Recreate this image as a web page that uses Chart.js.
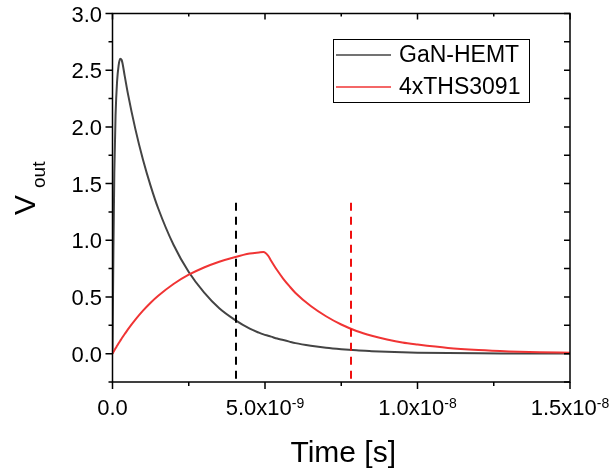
<!DOCTYPE html>
<html>
<head>
<meta charset="utf-8">
<script src="https://cdn.jsdelivr.net/npm/chart.js@4.4.1/dist/chart.umd.min.js"></script>
<style>
html,body{margin:0;padding:0;background:#fff;}
canvas{display:block;}
</style>
</head>
<body>
<canvas id="c" width="616" height="474"></canvas>
<script>
// ---- data (time in ns) ----
const timeNs = [0, 0.03, 0.06, 0.1, 0.15, 0.2, 0.25, 0.3, 0.4, 0.5, 0.75, 1, 1.25, 1.5, 2, 2.5, 3, 3.5, 4, 4.5, 4.8, 4.95, 5.1, 5.2, 5.4, 5.6, 5.8, 6, 6.5, 7, 7.5, 8, 8.5, 9, 9.5, 10, 11, 12, 13, 14, 15];
const ganHemt = [0, 0.9, 1.6, 2.1, 2.4, 2.54, 2.6, 2.59, 2.45, 2.30, 1.98, 1.71, 1.48, 1.28, 0.96, 0.72, 0.54, 0.40, 0.30, 0.22, 0.185, 0.17, 0.158, 0.15, 0.133, 0.12, 0.106, 0.093, 0.070, 0.052, 0.039, 0.029, 0.022, 0.016, 0.012, 0.009, 0.005, 0.003, 0.002, 0.001, 0.001];
const ths3091 = [0, 0.014, 0.028, 0.047, 0.069, 0.091, 0.112, 0.133, 0.173, 0.212, 0.300, 0.379, 0.449, 0.510, 0.614, 0.696, 0.760, 0.811, 0.851, 0.883, 0.893, 0.897, 0.865, 0.82, 0.735, 0.66, 0.595, 0.535, 0.42, 0.33, 0.257, 0.20, 0.158, 0.125, 0.098, 0.08, 0.05, 0.032, 0.02, 0.012, 0.008];
const markerTimes = [4.05, 7.82];
const markerTop = 1.33;
const seriesNames = ['GaN-HEMT', '4xTHS3091'];

// ---- axes ----
const xMin = 0, xMax = 15, yMin = -0.25, yMax = 3.0;
const xMajorTicks = [0, 5, 10, 15];
const xTickBase = ['0.0', '5.0x10', '1.0x10', '1.5x10'];
const xTickExp = ['', '-9', '-8', '-8'];
const xMinorTicks = [2.5, 7.5, 12.5];
const yMajorTicks = [0, 0.5, 1.0, 1.5, 2.0, 2.5, 3.0];
const yTickLabels = ['0.0', '0.5', '1.0', '1.5', '2.0', '2.5', '3.0'];
const yMinorTicks = [-0.25, 0.25, 0.75, 1.25, 1.75, 2.25, 2.75];

const FONT = '"Liberation Sans", Arial, Helvetica, sans-serif';
const colGaN = '#444444';
const colTHS = '#f03434';

const pts = (ys) => timeNs.map((t, i) => ({x: t, y: ys[i]}));

const decorPlugin = {
  id: 'decor',
  afterDraw(chart) {
    const {ctx, chartArea: a, scales: {x, y}} = chart;
    ctx.save();
    ctx.strokeStyle = '#000';
    ctx.fillStyle = '#000';
    ctx.lineWidth = 1.5;
    ctx.strokeRect(a.left, a.top, a.right - a.left, a.bottom - a.top);
    ctx.beginPath();
    const MAJ = 7, MIN = 4;
    xMajorTicks.forEach(v => {
      const px = x.getPixelForValue(v);
      ctx.moveTo(px, a.bottom); ctx.lineTo(px, a.bottom + MAJ);
      ctx.moveTo(px, a.top); ctx.lineTo(px, a.top + MAJ - 1);
    });
    xMinorTicks.forEach(v => {
      const px = x.getPixelForValue(v);
      ctx.moveTo(px, a.bottom); ctx.lineTo(px, a.bottom + MIN);
      ctx.moveTo(px, a.top); ctx.lineTo(px, a.top + MIN - 1);
    });
    yMajorTicks.forEach(v => {
      const py = y.getPixelForValue(v);
      ctx.moveTo(a.left, py); ctx.lineTo(a.left - MAJ, py);
      ctx.moveTo(a.right, py); ctx.lineTo(a.right - 6, py);
    });
    yMinorTicks.forEach(v => {
      const py = y.getPixelForValue(v);
      ctx.moveTo(a.left, py); ctx.lineTo(a.left - MIN, py);
      ctx.moveTo(a.right, py); ctx.lineTo(a.right - 6, py);
    });
    ctx.stroke();

    // y tick labels
    ctx.font = '22px ' + FONT;
    ctx.textAlign = 'right';
    ctx.textBaseline = 'alphabetic';
    yMajorTicks.forEach((v, i) => {
      const py = y.getPixelForValue(v);
      ctx.fillText(yTickLabels[i], a.left - 10.5, py + 8);
    });

    // x tick labels with superscripts
    ctx.textAlign = 'left';
    xMajorTicks.forEach((v, i) => {
      const cx = x.getPixelForValue(v);
      ctx.font = '22px ' + FONT;
      const w1 = ctx.measureText(xTickBase[i]).width;
      ctx.font = '14px ' + FONT;
      const w2 = xTickExp[i] ? ctx.measureText(xTickExp[i]).width : 0;
      const x0 = cx - (w1 + w2) / 2;
      ctx.font = '22px ' + FONT;
      ctx.fillText(xTickBase[i], x0, a.bottom + 33);
      if (xTickExp[i]) {
        ctx.font = '14px ' + FONT;
        ctx.fillText(xTickExp[i], x0 + w1, a.bottom + 26);
      }
    });

    // x axis title
    ctx.font = '30px ' + FONT;
    ctx.textAlign = 'center';
    ctx.fillText('Time [s]', (a.left + a.right) / 2 + 2, 462);

    // y axis title V_out (rotated)
    ctx.save();
    ctx.translate(35, 215);
    ctx.rotate(-Math.PI / 2);
    ctx.textAlign = 'left';
    ctx.font = '30px ' + FONT;
    ctx.fillText('V', 0, 0);
    const wv = ctx.measureText('V').width;
    ctx.font = '19px ' + FONT;
    ctx.fillText('out', wv + 7, 10);
    ctx.restore();

    // legend
    ctx.lineWidth = 1;
    ctx.strokeStyle = '#000';
    ctx.strokeRect(333.5, 39.5, 196, 63);
    ctx.lineWidth = 1.5;
    ctx.strokeStyle = colGaN;
    ctx.beginPath(); ctx.moveTo(336, 55); ctx.lineTo(391, 55); ctx.stroke();
    ctx.strokeStyle = colTHS;
    ctx.beginPath(); ctx.moveTo(336, 87); ctx.lineTo(391, 87); ctx.stroke();
    ctx.fillStyle = '#000';
    ctx.textAlign = 'left';
    ctx.font = '23px ' + FONT;
    ctx.fillText(seriesNames[0], 399, 62);
    ctx.fillText(seriesNames[1], 399, 94);
    ctx.restore();
  }
};

new Chart(document.getElementById('c'), {
  type: 'line',
  data: {
    datasets: [
      {label: 'dashBlack', data: [{x: markerTimes[0], y: markerTop}, {x: markerTimes[0], y: yMin}],
       borderColor: '#000', borderWidth: 2, borderDash: [8, 6], pointRadius: 0, fill: false},
      {label: 'dashRed', data: [{x: markerTimes[1], y: markerTop}, {x: markerTimes[1], y: yMin}],
       borderColor: '#f01010', borderWidth: 2, borderDash: [8, 6], pointRadius: 0, fill: false},
      {label: seriesNames[1], data: pts(ths3091), borderColor: colTHS, borderWidth: 2, pointRadius: 0,
       cubicInterpolationMode: 'monotone', fill: false},
      {label: seriesNames[0], data: pts(ganHemt), borderColor: colGaN, borderWidth: 2, pointRadius: 0,
       cubicInterpolationMode: 'monotone', fill: false}
    ]
  },
  options: {
    responsive: false,
    animation: false,
    layout: {padding: {left: 0, right: 46, top: 13.5, bottom: 0}},
    plugins: {legend: {display: false}, tooltip: {enabled: false}},
    scales: {
      x: {type: 'linear', min: xMin, max: xMax,
          ticks: {display: false}, grid: {display: false}, border: {display: false},
          afterFit: (s) => { s.height = 92; }},
      y: {type: 'linear', min: yMin, max: yMax,
          ticks: {display: false}, grid: {display: false}, border: {display: false},
          afterFit: (s) => { s.width = 112.5; }}
    }
  },
  plugins: [decorPlugin]
});
</script>
</body>
</html>
